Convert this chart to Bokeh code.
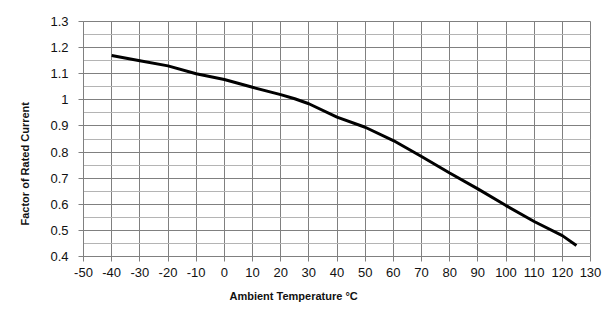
from bokeh.plotting import figure
from bokeh.models import Range1d, FixedTicker, Grid, Title
from bokeh.embed import file_html
from bokeh.resources import INLINE

# Derating curve: factor of rated current vs ambient temperature
temperature = [-40, -30, -20, -10, 0, 10, 20, 25, 30, 40, 50, 60, 70, 80, 90, 100, 110, 120, 125]
factor = [1.17, 1.15, 1.13, 1.10, 1.078, 1.048, 1.02, 1.004, 0.985, 0.934, 0.895, 0.844,
          0.783, 0.72, 0.659, 0.595, 0.534, 0.48, 0.442]

x_ticks = list(range(-50, 131, 10))
y_ticks = [0.4, 0.5, 0.6, 0.7, 0.8, 0.9, 1.0, 1.1, 1.2, 1.3]
y_minor = [0.45, 0.55, 0.65, 0.75, 0.85, 0.95, 1.05, 1.15, 1.25]

FONT = "Liberation Sans"

p = figure(width=609, height=312, output_backend="svg", toolbar_location=None,
           x_range=Range1d(-50, 130), y_range=Range1d(0.4, 1.3),
           min_border_left=81, min_border_right=19, min_border_top=21, min_border_bottom=56)
p.background_fill_color = "white"
p.border_fill_color = "white"
p.outline_line_color = "#808080"
p.outline_line_width = 1

# axes
for ax in (p.xaxis[0], p.yaxis[0]):
    ax.axis_line_color = "#808080"
    ax.major_tick_line_color = "#808080"
    ax.major_tick_out = 5
    ax.major_tick_in = 0
    ax.minor_tick_line_color = None
    ax.major_label_text_font = FONT
    ax.major_label_text_font_size = "13px"
    ax.major_label_text_color = "#111111"

p.xaxis.ticker = FixedTicker(ticks=x_ticks)
p.yaxis.ticker = FixedTicker(ticks=y_ticks)
p.xaxis.major_label_standoff = 6
p.yaxis.major_label_standoff = 10
p.xaxis.major_label_overrides = {t: str(t) for t in x_ticks}
p.yaxis.major_label_overrides = {1.0: "1"}

# grid: major lines on every tick, lighter minor lines between y ticks
p.xgrid.grid_line_color = "#808080"
p.ygrid.grid_line_color = "#808080"
p.add_layout(Grid(dimension=1, ticker=FixedTicker(ticks=y_minor),
                  grid_line_color="#b4b4b4", grid_line_width=1), "center")

p.line(temperature, factor, line_color="black", line_width=3)

# axis titles
p.add_layout(Title(text="Ambient Temperature °C", align="left", offset=146,
                   text_font=FONT, text_font_style="bold", text_font_size="11px",
                   text_color="#111111", standoff=17), "below")
p.add_layout(Title(text="Factor of Rated  Current", align="left", offset=31,
                   text_font=FONT, text_font_style="bold", text_font_size="11px",
                   text_color="#111111", standoff=33), "left")

open("out.html", "w").write(file_html(p, INLINE))
